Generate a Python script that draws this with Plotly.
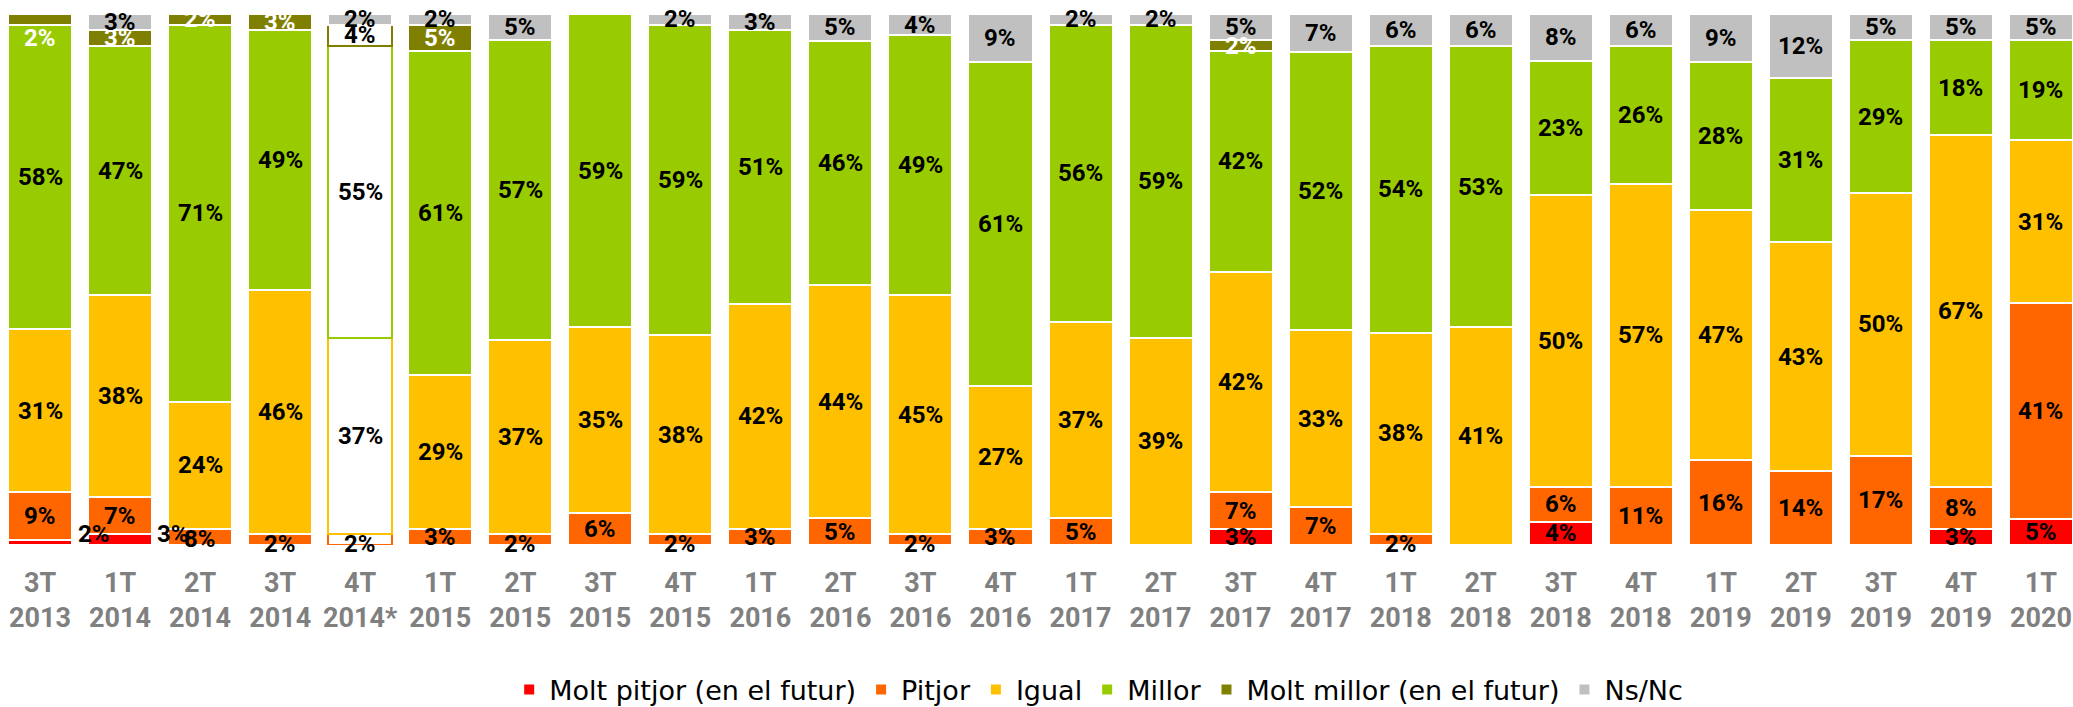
import plotly.graph_objects as go

categories = ["3T<br>2013", "1T<br>2014", "2T<br>2014", "3T<br>2014", "4T<br>2014*", "1T<br>2015",
              "2T<br>2015", "3T<br>2015", "4T<br>2015", "1T<br>2016", "2T<br>2016", "3T<br>2016",
              "4T<br>2016", "1T<br>2017", "2T<br>2017", "3T<br>2017", "4T<br>2017", "1T<br>2018",
              "2T<br>2018", "3T<br>2018", "4T<br>2018", "1T<br>2019", "2T<br>2019", "3T<br>2019",
              "4T<br>2019", "1T<br>2020"]

molt_pitjor = [1, 2, 0, 0, 0, 0, 0, 0, 0, 0, 0, 0, 0, 0, 0, 3, 0, 0, 0, 4, 0, 0, 0, 0, 3, 5]
pitjor      = [9, 7, 3, 2, 2, 3, 2, 6, 2, 3, 5, 2, 3, 5, 0, 7, 7, 2, 0, 6, 11, 16, 14, 17, 8, 41]
igual       = [31, 38, 24, 46, 37, 29, 37, 35, 38, 42, 44, 45, 27, 37, 39, 42, 33, 38, 41, 50, 57, 47, 43, 50, 67, 31]
millor      = [58, 47, 71, 49, 55, 61, 57, 59, 59, 51, 46, 49, 61, 56, 59, 42, 52, 54, 53, 23, 26, 28, 31, 29, 18, 19]
molt_millor = [2, 3, 2, 3, 4, 5, 0, 0, 0, 0, 0, 0, 0, 0, 0, 2, 0, 0, 0, 0, 0, 0, 0, 0, 0, 0]
ns_nc       = [0, 3, 0, 0, 2, 2, 5, 0, 2, 3, 5, 4, 9, 2, 2, 5, 7, 6, 6, 8, 6, 9, 12, 5, 5, 5]

series_names = ["Molt pitjor (en el futur)", "Pitjor", "Igual", "Millor", "Molt millor (en el futur)", "Ns/Nc"]
series_values = [molt_pitjor, pitjor, igual, millor, molt_millor, ns_nc]
series_colors = ["#FF0000", "#FF6600", "#FFC000", "#99CC00", "#808000", "#C0C0C0"]
label_colors = ["black", "black", "black", "black", "white", "black"]

# labels hidden in the original chart
hidden_labels = {(0, 0)}
# labels displaced in the original chart: (series, bar) -> (dx px, dy px)
label_shift = {(0, 1): (-26, 6), (1, 2): (-27, 3), (4, 0): (0, -19)}
# stray label printed in the original
extra_labels = [(2, 1, "8%")]  # (bar, series, text)

outlined_bar = 4  # 4T 2014*: drawn as outlines only

FONT = "Roboto"
LEGEND_FONT = "DejaVu Sans"
fig = go.Figure()
n = len(categories)
for s, (name, vals, col) in enumerate(zip(series_names, series_values, series_colors)):
    fills = [col] * n
    lines = ["white"] * n
    if s < 5:
        fills[outlined_bar] = "white"
        lines[outlined_bar] = col
    fig.add_trace(go.Bar(
        x=list(range(n)), y=vals, name=name,
        marker=dict(color=fills, line=dict(color=lines, width=2)),
        hoverinfo="name+y",
    ))

totals = [sum(series_values[s][i] for s in range(6)) for i in range(n)]
annotations = []
for i in range(n):
    cum = 0
    for s in range(6):
        v = series_values[s][i]
        center = (cum + v / 2) / totals[i] * 100
        cum += v
        if v == 0 or (s, i) in hidden_labels:
            continue
        dx, dy = label_shift.get((s, i), (0, 0))
        if s in (0, 1) and v <= 2 and (s, i) not in label_shift:
            dy = -4
        color = label_colors[s]
        if i == outlined_bar:
            color = "black"
        annotations.append(dict(x=i, y=center, text=f"{v}%", showarrow=False,
                                xshift=dx, yshift=dy,
                                font=dict(family=FONT, size=24, color=color, weight="bold")))
for i, s, t in extra_labels:
    cum = sum(series_values[k][i] for k in range(s))
    center = (cum + series_values[s][i] / 2) / totals[i] * 100
    annotations.append(dict(x=i, y=center, text=t, showarrow=False, yshift=-2,
                            font=dict(family=FONT, size=24, color="black", weight="bold")))

fig.update_layout(
    barmode="stack", barnorm="percent", bargap=0.2,
    width=2073, height=707,
    margin=dict(l=0, r=0, t=14, b=162),
    plot_bgcolor="white", paper_bgcolor="white",
    font=dict(family=FONT),
    showlegend=True,
    legend=dict(orientation="h", x=0.53, xanchor="center",
                yref="container", y=0.024, yanchor="middle",
                font=dict(family=LEGEND_FONT, size=27, color="black"), traceorder="normal",
                itemwidth=30),
    annotations=annotations,
    xaxis=dict(tickmode="array", tickvals=list(range(n)), ticktext=categories,
               range=[-0.5, 25.4], showgrid=False, zeroline=False, showline=False,
               ticks="", ticklabelstandoff=19,
               tickfont=dict(family=FONT, size=27, color="#808080", weight="bold")),
    yaxis=dict(range=[0, 100], visible=False, showgrid=False, zeroline=False),
)

fig.write_html("out.html", config={"displayModeBar": False},
               post_script="document.body.style.margin='0';document.body.style.overflow='hidden';")
